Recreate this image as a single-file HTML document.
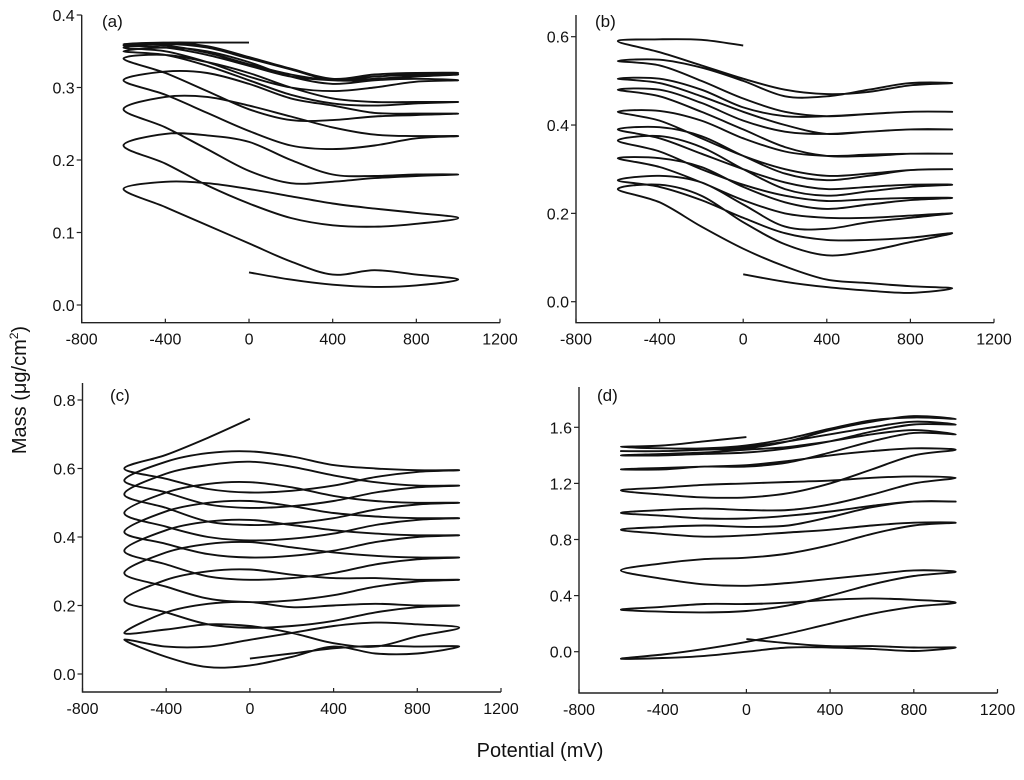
<!DOCTYPE html>
<html><head><meta charset="utf-8">
<style>
html,body{margin:0;padding:0;background:#fff;}
svg{display:block;}
text{font-family:"Liberation Sans",sans-serif;fill:#111;}
</style></head>
<body>
<svg id="chart" width="1024" height="780" viewBox="0 0 1024 780">
<text x="26" y="390" font-size="20" text-anchor="middle" transform="rotate(-90 26 390)">Mass (μg/cm<tspan font-size="12" dy="-8">2</tspan><tspan dy="8">)</tspan></text>
<text x="540" y="757" font-size="20" text-anchor="middle">Potential (mV)</text>
</svg>
<script>
const fwdV=[-600,-400,-200,0,200,400,600,800,1000];
const revV=[1000,800,600,400,200,0,-200,-400,-600];
const initV=[0,200,400,600,800,1000];
const finalV=[-600,-400,-200,0];
const xTicks=[-800,-400,0,400,800,1200];

// Panel (a)
const aInit=[0.045,0.035,0.028,0.025,0.027,0.035];
const aFinal=[0.36,0.362,0.362,0.362];
const aRev=[
[0.035,0.042,0.048,0.042,0.06,0.085,0.11,0.135,0.16],
[0.12,0.112,0.108,0.11,0.12,0.14,0.165,0.195,0.22],
[0.18,0.178,0.175,0.17,0.168,0.185,0.215,0.245,0.27],
[0.233,0.23,0.22,0.215,0.22,0.24,0.265,0.29,0.31],
[0.264,0.262,0.26,0.255,0.255,0.27,0.295,0.32,0.34],
[0.28,0.278,0.275,0.278,0.29,0.31,0.33,0.345,0.35],
[0.31,0.308,0.3,0.295,0.3,0.315,0.335,0.35,0.355],
[0.318,0.315,0.31,0.31,0.315,0.33,0.345,0.355,0.358],
[0.32,0.316,0.312,0.31,0.318,0.332,0.348,0.358,0.36]];
const aFwd=[
[0.16,0.17,0.168,0.16,0.15,0.14,0.133,0.127,0.12],
[0.22,0.236,0.234,0.225,0.2,0.18,0.178,0.18,0.18],
[0.27,0.287,0.287,0.275,0.26,0.245,0.235,0.233,0.233],
[0.31,0.322,0.32,0.305,0.285,0.275,0.265,0.264,0.264],
[0.34,0.345,0.335,0.32,0.3,0.285,0.28,0.28,0.28],
[0.35,0.355,0.35,0.335,0.315,0.305,0.31,0.312,0.31],
[0.355,0.36,0.355,0.34,0.325,0.31,0.315,0.318,0.318],
[0.358,0.362,0.357,0.342,0.326,0.312,0.318,0.32,0.32]];
const aYTicks=[0,0.1,0.2,0.3,0.4];

// Panel (b)
const bInit=[0.062,0.045,0.033,0.025,0.02,0.03];
const bFinal=[0.59,0.594,0.593,0.58];
const bRev=[
[0.03,0.035,0.042,0.05,0.08,0.12,0.17,0.225,0.255],
[0.155,0.145,0.14,0.14,0.155,0.19,0.23,0.26,0.275],
[0.2,0.195,0.19,0.19,0.2,0.23,0.27,0.305,0.325],
[0.235,0.235,0.232,0.228,0.24,0.265,0.3,0.34,0.365],
[0.265,0.265,0.26,0.255,0.27,0.3,0.335,0.37,0.39],
[0.3,0.298,0.29,0.285,0.3,0.33,0.37,0.41,0.43],
[0.335,0.335,0.33,0.33,0.35,0.39,0.43,0.465,0.48],
[0.39,0.39,0.385,0.38,0.4,0.43,0.465,0.495,0.505],
[0.43,0.43,0.425,0.42,0.43,0.46,0.5,0.535,0.545],
[0.495,0.49,0.475,0.47,0.48,0.505,0.535,0.565,0.59]];
const bFwd=[
[0.255,0.265,0.24,0.18,0.13,0.105,0.115,0.135,0.155],
[0.275,0.285,0.27,0.22,0.17,0.165,0.18,0.19,0.2],
[0.325,0.325,0.305,0.26,0.225,0.21,0.22,0.23,0.235],
[0.365,0.375,0.35,0.3,0.255,0.24,0.25,0.26,0.265],
[0.39,0.395,0.375,0.33,0.29,0.275,0.285,0.298,0.3],
[0.43,0.432,0.41,0.37,0.34,0.33,0.333,0.335,0.335],
[0.48,0.48,0.45,0.41,0.385,0.38,0.385,0.39,0.39],
[0.505,0.505,0.48,0.44,0.42,0.42,0.425,0.43,0.43],
[0.545,0.548,0.53,0.5,0.465,0.465,0.48,0.495,0.495]];
const bYTicks=[0,0.2,0.4,0.6];

// Panel (c)
const cInit=[0.045,0.06,0.075,0.082,0.08,0.08];
const cFinal=[0.6,0.64,0.69,0.745];
const cRev=[
[0.08,0.06,0.06,0.08,0.05,0.025,0.02,0.05,0.1],
[0.135,0.11,0.08,0.09,0.12,0.14,0.145,0.13,0.12],
[0.2,0.195,0.18,0.155,0.14,0.135,0.145,0.18,0.215],
[0.275,0.27,0.255,0.23,0.215,0.21,0.22,0.255,0.295],
[0.34,0.335,0.32,0.295,0.28,0.275,0.285,0.32,0.36],
[0.405,0.4,0.385,0.36,0.345,0.34,0.35,0.38,0.415],
[0.455,0.45,0.435,0.41,0.395,0.39,0.4,0.43,0.47],
[0.5,0.495,0.48,0.455,0.44,0.435,0.445,0.485,0.525],
[0.55,0.545,0.53,0.505,0.49,0.485,0.495,0.53,0.565],
[0.595,0.59,0.575,0.55,0.535,0.53,0.54,0.57,0.6]];
const cFwd=[
[0.1,0.08,0.08,0.1,0.12,0.14,0.15,0.145,0.135],
[0.12,0.18,0.205,0.21,0.195,0.2,0.205,0.2,0.2],
[0.215,0.275,0.3,0.305,0.29,0.28,0.28,0.275,0.275],
[0.295,0.355,0.38,0.385,0.37,0.355,0.345,0.34,0.34],
[0.36,0.42,0.445,0.45,0.435,0.42,0.41,0.405,0.405],
[0.415,0.475,0.5,0.505,0.49,0.47,0.46,0.455,0.455],
[0.47,0.53,0.555,0.56,0.545,0.52,0.505,0.5,0.5],
[0.525,0.585,0.61,0.62,0.605,0.58,0.56,0.55,0.55],
[0.565,0.62,0.645,0.65,0.635,0.61,0.6,0.595,0.595]];
const cYTicks=[0,0.2,0.4,0.6,0.8];

// Panel (d)
const dInit=[0.09,0.06,0.04,0.04,0.03,0.03];
const dFinal=[1.46,1.47,1.5,1.53];
const dRev=[
[0.03,0.005,0.02,0.03,0.03,0.0,-0.03,-0.045,-0.05],
[0.35,0.37,0.38,0.37,0.35,0.34,0.34,0.32,0.3],
[0.57,0.58,0.55,0.52,0.49,0.47,0.48,0.52,0.58],
[0.92,0.92,0.9,0.87,0.85,0.83,0.82,0.84,0.87],
[1.07,1.07,1.04,1.0,0.97,0.95,0.95,0.97,0.99],
[1.24,1.25,1.24,1.22,1.21,1.2,1.19,1.17,1.15],
[1.44,1.45,1.43,1.4,1.36,1.33,1.32,1.31,1.3],
[1.55,1.58,1.55,1.5,1.46,1.44,1.42,1.41,1.4],
[1.62,1.64,1.6,1.55,1.5,1.46,1.44,1.43,1.43],
[1.66,1.67,1.65,1.59,1.52,1.47,1.45,1.45,1.46]];
const dFwd=[
[-0.05,-0.02,0.02,0.07,0.13,0.2,0.27,0.32,0.35],
[0.3,0.285,0.28,0.29,0.33,0.4,0.48,0.54,0.57],
[0.58,0.63,0.66,0.67,0.7,0.76,0.84,0.9,0.92],
[0.87,0.89,0.9,0.89,0.9,0.96,1.03,1.07,1.07],
[0.99,1.01,1.02,1.01,1.01,1.05,1.12,1.2,1.24],
[1.15,1.12,1.1,1.1,1.13,1.2,1.3,1.4,1.44],
[1.3,1.3,1.32,1.32,1.35,1.42,1.5,1.56,1.55],
[1.4,1.4,1.41,1.42,1.45,1.5,1.57,1.62,1.62],
[1.43,1.43,1.44,1.45,1.5,1.58,1.64,1.68,1.66]];
const dYTicks=[0,0.4,0.8,1.2,1.6];

const NS="http://www.w3.org/2000/svg";
const svg=document.getElementById('chart');
function mk(tag,attrs,parent){const e=document.createElementNS(NS,tag);for(const k in attrs)e.setAttribute(k,attrs[k]);(parent||svg).appendChild(e);return e;}

const panels=[
 {id:'a',label:'(a)',x0:81.7,x1:500,yTop:15,yBase:322.7,v0:0,p0:305,v1:0.4,p1:15,ticks:aYTicks,init:aInit,rev:aRev,fwd:aFwd,fin:aFinal,lx:102,ly:27},
 {id:'b',label:'(b)',x0:576,x1:994,yTop:15,yBase:322.7,v0:0,p0:301.7,v1:0.6,p1:36.7,ticks:bYTicks,init:bInit,rev:bRev,fwd:bFwd,fin:bFinal,lx:595,ly:27},
 {id:'c',label:'(c)',x0:82.5,x1:501,yTop:383,yBase:692,v0:0,p0:674,v1:0.8,p1:400,ticks:cYTicks,init:cInit,rev:cRev,fwd:cFwd,fin:cFinal,lx:110,ly:401},
 {id:'d',label:'(d)',x0:579,x1:997.5,yTop:387,yBase:693,v0:0,p0:651.7,v1:1.6,p1:427.3,ticks:dYTicks,init:dInit,rev:dRev,fwd:dFwd,fin:dFinal,lx:597,ly:401}
];

function spline(pts){
  let d='M'+pts[0][0].toFixed(1)+','+pts[0][1].toFixed(1);
  for(let i=0;i<pts.length-1;i++){
    const p0=pts[i-1]||pts[i],p1=pts[i],p2=pts[i+1],p3=pts[i+2]||p2;
    const c1x=p1[0]+(p2[0]-p0[0])/6,c1y=p1[1]+(p2[1]-p0[1])/6;
    const c2x=p2[0]-(p3[0]-p1[0])/6,c2y=p2[1]-(p3[1]-p1[1])/6;
    d+='C'+c1x.toFixed(1)+','+c1y.toFixed(1)+' '+c2x.toFixed(1)+','+c2y.toFixed(1)+' '+p2[0].toFixed(1)+','+p2[1].toFixed(1);
  }
  return d;
}

panels.forEach(P=>{
  const xs=v=>P.x0+(v+800)/2000*(P.x1-P.x0);
  const ys=m=>P.p0+(m-P.v0)/(P.v1-P.v0)*(P.p1-P.p0);
  const g=mk('g',{});
  
  
  const ax=mk('path',{d:'M'+P.x0+','+P.yTop+'V'+P.yBase+'H'+P.x1,stroke:'#222','stroke-width':1.4,fill:'none'},g);
  
  
  xTicks.forEach(t=>{
    const x=xs(t);
    mk('line',{x1:x,x2:x,y1:P.yBase,y2:P.yBase-4,stroke:'#222','stroke-width':1.2},g);
    const tx=mk('text',{x:x,y:P.yBase+22,'font-size':16,'text-anchor':'middle'},g);
    tx.textContent=String(t);
    
    
  });
  P.ticks.forEach(t=>{
    const y=ys(t);
    mk('line',{x1:P.x0,x2:P.x0-5,y1:y,y2:y,stroke:'#222','stroke-width':1.2},g);
    const tx=mk('text',{x:P.x0-7,y:y+6,'font-size':16,'text-anchor':'end'},g);
    tx.textContent=t.toFixed(1);
    
    
  });
  const lb=mk('text',{x:P.lx,y:P.ly,'font-size':17},g);
  lb.textContent=P.label;
  
  
  let pts=[];
  const add=(V,M)=>{V.forEach((v,i)=>{if(pts.length&&i===0)return;pts.push([xs(v),ys(M[i])]);});};
  add(initV,P.init);
  add(revV,P.rev[0]);
  for(let i=0;i<P.fwd.length;i++){add(fwdV,P.fwd[i]);add(revV,P.rev[i+1]);}
  add(finalV,P.fin);
  const path=mk('path',{d:spline(pts),stroke:'#111','stroke-width':1.9,fill:'none','stroke-linejoin':'round'},g);
  
  
});
</script>
</body></html>
